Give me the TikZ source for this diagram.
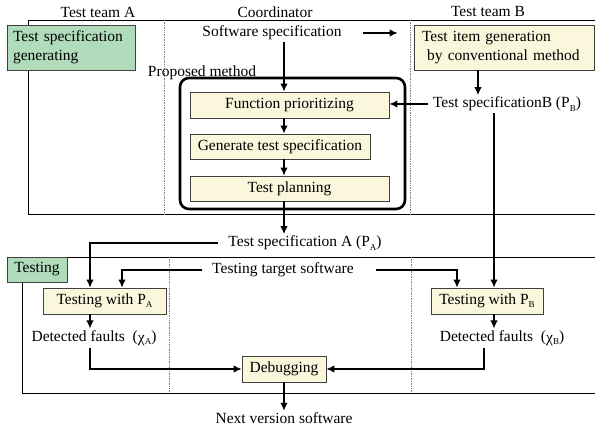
\documentclass[tikz,border=0pt]{standalone}
\usepackage{fontspec}
\setmainfont{Liberation Serif}
\usetikzlibrary{arrows.meta}
\definecolor{boxgreen}{HTML}{B0DCBC}
\definecolor{boxyellow}{HTML}{FAF7DC}
\newcommand\sbs[1]{\raisebox{-0.45ex}{\fontsize{9}{9}\selectfont #1}}
\tikzset{
  every node/.style={font=\fontsize{15.5}{19}\selectfont},
  lbl/.style={inner sep=1.5pt},
  ybox/.style={draw=black!75, line width=0.8pt, fill=boxyellow, inner sep=0pt},
  gbox/.style={draw=black!75, line width=0.8pt, fill=boxgreen, inner sep=0pt},
  arr/.style={line width=1.4pt, -{Latex[length=8pt,width=7.5pt]}},
  ln/.style={line width=1.4pt},
  frame/.style={line width=0.8pt},
  sep/.style={gray, densely dotted, line width=0.7pt},
}
\begin{document}
\begin{tikzpicture}[x=1pt,y=-1pt]
\useasboundingbox (0,0) rectangle (595,427);
% frames
\draw[frame] (595,20) -- (28,20) -- (28,214) -- (595,214);
\draw[sep] (164,20) -- (164,214);
\draw[sep] (410,20) -- (410,214);
\draw[frame] (595,257) -- (22,257) -- (22,393) -- (595,393);
\draw[sep] (169,257) -- (169,393);
\draw[sep] (411,257) -- (411,393);
% column headings
\node[lbl] (ta) at (98,12) {Test team A};
\node[lbl] (co) at (275,12) {Coordinator};
\node[lbl] (tb) at (488,12) {Test team B};
% top section
\node[gbox, minimum width=128pt, minimum height=45pt, text width=116pt, align=left] (tsg) at (71,47.5) {Test specification\\generating};
\node[lbl] (sw) at (272,33) {Software specification};
\node[ybox, minimum width=180pt, minimum height=45pt, text width=164pt, align=left] (tig) at (504,47.5) {Test item generation\\\ by conventional method};
\node[lbl] (pm) at (202,73) {Proposed method};
\draw[line width=2.6pt, rounded corners=9pt] (180,78) rectangle (405,209);
\node[ybox, minimum width=199pt, minimum height=26pt] (fp) at (289.5,105) {Function prioritizing};
\node[ybox, minimum width=180pt, minimum height=25pt] (gts) at (280,146.5) {Generate test specification};
\node[ybox, minimum width=199pt, minimum height=25pt] (tp) at (289.5,188.5) {Test planning};
\node[lbl] (tsb) at (507,104) {Test specificationB (P\sbs{B})};
% bottom section
\node[lbl] (tsa) at (305,243) {Test specification A (P\sbs{A})};
\node[gbox, minimum width=60pt, minimum height=25pt] (tst) at (37,269.5) {Testing};
\node[lbl] (tts) at (283,270) {Testing target software};
\node[ybox, minimum width=123pt, minimum height=26pt] (tpa) at (104.5,301) {Testing with P\sbs{A}};
\node[ybox, minimum width=112pt, minimum height=26pt] (tpb) at (487,301) {Testing with P\sbs{B}};
\node[lbl] (dfa) at (94,338) {Detected faults\ \ (\raisebox{-0.2ex}{χ}\sbs{A})};
\node[lbl] (dfb) at (502,338) {Detected faults\ \ (\raisebox{-0.2ex}{χ}\sbs{B})};
\node[ybox, minimum width=84pt, minimum height=26pt] (deb) at (284,369) {Debugging};
\node[lbl] (nv) at (284,418) {Next version software};
% helper x-positions
\coordinate (cx) at (284,0);
\coordinate (xa) at (90,0);
\coordinate (xb) at (122,0);
\coordinate (xc) at (457,0);
\coordinate (xd) at (494,0);
\coordinate (xe) at (478,0);
\coordinate (xf) at (484,0);
% connectors top
\draw[arr, shorten <=20pt, shorten >=16pt] (sw.east) -- (sw.east -| tig.west);
\draw[arr] (sw.south -| cx) -- (fp.north -| cx);
\draw[arr] (fp.south -| cx) -- (gts.north -| cx);
\draw[arr] (gts.south -| cx) -- (tp.north -| cx);
\draw[arr] (tig.south -| xe) -- (tsb.north -| xe);
\draw[arr, shorten <=3pt] (tsb.west) -- (tsb.west -| fp.east);
\draw[arr] (tsb.south -| xd) -- (tpb.north -| xd);
% connectors bottom
\draw[arr] (tp.south -| cx) -- (tsa.north -| cx);
\draw[arr, shorten <=9pt] (tsa.west) -| (tpa.north -| xa);
\draw[arr, shorten <=9pt] (tts.west) -| (tpa.north -| xb);
\draw[arr, shorten <=21pt] (tts.east) -| (tpb.north -| xc);
\draw[arr] (tpa.south -| xa) -- (dfa.north -| xa);
\draw[arr] (tpb.south -| xd) -- (dfb.north -| xd);
\draw[arr] (dfa.south -| xa) |- (deb.west);
\draw[arr] (dfb.south -| xf) |- (deb.east);
\draw[arr] (deb.south) -- (nv.north);
\end{tikzpicture}
\end{document}
